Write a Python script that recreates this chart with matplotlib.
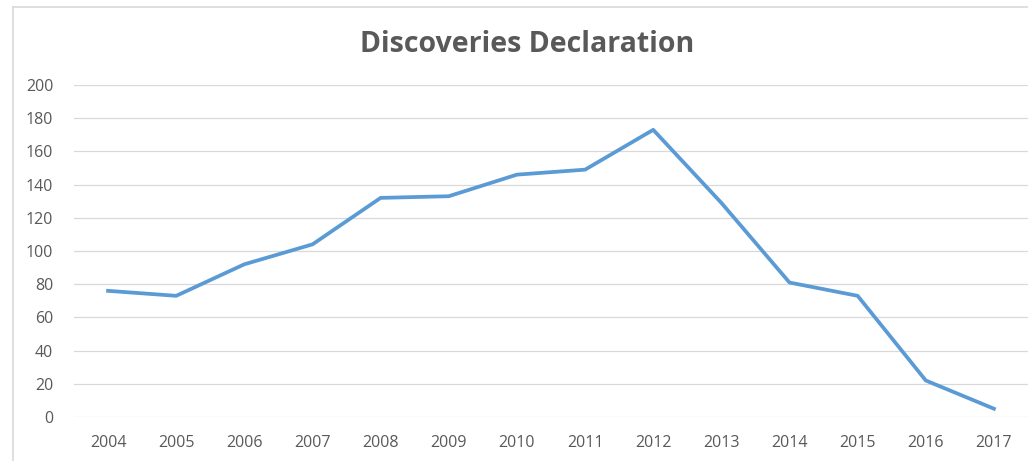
import matplotlib.pyplot as plt
from matplotlib.lines import Line2D

# values
years = ['2004', '2005', '2006', '2007', '2008', '2009', '2010',
         '2011', '2012', '2013', '2014', '2015', '2016', '2017']
declarations = [76, 73, 92, 104, 132, 133, 146, 149, 173, 129, 81, 73, 22, 5]
y_ticks = [0, 20, 40, 60, 80, 100, 120, 140, 160, 180, 200]

plt.rcParams['font.family'] = ['Open Sans', 'DejaVu Sans']

W, H = 1028, 461
fig = plt.figure(figsize=(W / 100, H / 100), dpi=100)
ax = fig.add_axes([74 / W, 1 - 417 / H, 1 - 74 / W, (417 - 85) / H])

x = range(len(years))
ax.plot(x, declarations, color='#5B9BD5', linewidth=2.7, solid_joinstyle='round')

ax.set_xlim(-0.5, len(years) - 0.5)
ax.set_ylim(0, 200)
ax.set_xticks(list(x))
ax.set_xticklabels(years)
ax.set_yticks(y_ticks)
ax.yaxis.grid(True, color='#d9d9d9', linewidth=0.9)
ax.set_axisbelow(True)
for s in ax.spines.values():
    s.set_visible(False)
ax.tick_params(axis='both', length=0, labelsize=11.5, labelcolor='#595959')
ax.tick_params(axis='y', pad=15)
ax.tick_params(axis='x', pad=13)

fig.text(527 / W, 1 - 45 / H, 'Discoveries Declaration', ha='center', va='center',
         fontsize=20.5, fontweight='bold', color='#595959')

# chart border: light gray lines on the left and top only
bx, by = 13 / W, 1 - 7 / H
fig.lines.append(Line2D([bx, bx], [0, by], transform=fig.transFigure,
                        color='#d9d9d9', linewidth=1.2))
fig.lines.append(Line2D([bx, 1], [by, by], transform=fig.transFigure,
                        color='#d9d9d9', linewidth=1.2))

fig.savefig('out.png', dpi=100)
